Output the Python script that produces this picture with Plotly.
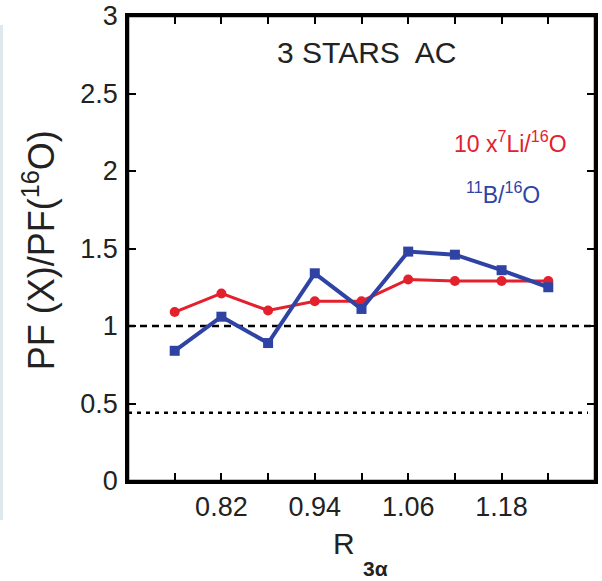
import plotly.graph_objects as go

# ---- data ----
r3a = [0.76, 0.82, 0.88, 0.94, 1.00, 1.06, 1.12, 1.18, 1.24]
li7_ratio = [1.09, 1.21, 1.10, 1.16, 1.16, 1.30, 1.29, 1.29, 1.29]   # 10 x 7Li/16O
b11_ratio = [0.84, 1.06, 0.89, 1.34, 1.11, 1.48, 1.46, 1.36, 1.25]   # 11B/16O
ref_dashed = 1.0
ref_dotted = 0.44
x_tickvals = [0.76, 0.82, 0.88, 0.94, 1.00, 1.06, 1.12, 1.18, 1.24]
x_ticktext = ["", "0.82", "", "0.94", "", "1.06", "", "1.18", ""]
y_tickvals = [0, 0.5, 1, 1.5, 2, 2.5, 3]
y_ticktext = ["0", "0.5", "1", "1.5", "2", "2.5", "3"]
x_range = [0.70, 1.30]
y_range = [0, 3]

RED = "#e3202b"
BLUE = "#2f43a5"
INK = "#222222"
FONT = "Liberation Sans, Arial, Helvetica, sans-serif"

fig = go.Figure()

fig.add_trace(go.Scatter(
    x=r3a, y=li7_ratio, mode="lines+markers",
    line=dict(color=RED, width=3),
    marker=dict(symbol="circle", size=10, color=RED),
    showlegend=False))
fig.add_trace(go.Scatter(
    x=r3a, y=b11_ratio, mode="lines+markers",
    line=dict(color=BLUE, width=4),
    marker=dict(symbol="square", size=10, color=BLUE),
    showlegend=False))
# empty trace that carries the top / right tick axes
fig.add_trace(go.Scatter(x=[], y=[], xaxis="x2", yaxis="y2",
                         showlegend=False, hoverinfo="skip"))

fig.add_shape(type="line", xref="paper", yref="y", x0=0, x1=1,
              y0=ref_dashed, y1=ref_dashed, layer="below",
              line=dict(color="black", width=2.5, dash="7px,5px"))
fig.add_shape(type="line", xref="paper", yref="y", x0=0, x1=0.985,
              y0=ref_dotted, y1=ref_dotted, layer="below",
              line=dict(color="black", width=2.5, dash="4px,5px"))
# plot frame
fig.add_shape(type="rect", xref="paper", yref="paper", x0=0, x1=1, y0=0, y1=1,
              layer="above", line=dict(color="black", width=2.5),
              fillcolor="rgba(0,0,0,0)")

# faint border artifact at far left of the reference
fig.add_shape(type="rect", xref="paper", yref="paper",
              x0=-128/467, x1=-125/467, y0=-(520-481)/465, y1=(481-25)/465,
              line=dict(width=0), fillcolor="#dfe8ec")

ann = dict(xref="paper", yref="paper", showarrow=False,
           xanchor="center", yanchor="middle")
fig.add_annotation(text="3 STARS  AC", x=0.511, y=0.9215,
                   font=dict(family=FONT, size=30, color=INK), **ann)
fig.add_annotation(text="10 x<sup>7</sup>Li/<sup>16</sup>O", x=0.818, y=0.728,
                   font=dict(family=FONT, size=23, color=RED), **ann)
fig.add_annotation(text="<sup>11</sup>B/<sup>16</sup>O", x=0.804, y=0.619,
                   font=dict(family=FONT, size=23, color=BLUE), **ann)
fig.add_annotation(text="PF (X)/PF(<sup>16</sup>O)", x=-0.19, y=0.497, textangle=-90,
                   font=dict(family=FONT, size=36, color=INK), **ann)
fig.add_annotation(text="R", x=0.4625, y=-0.135,
                   font=dict(family=FONT, size=30, color=INK), **ann)
fig.add_annotation(text="<b>3α</b>", x=0.531, y=-0.189,
                   font=dict(family=FONT, size=21, color=INK), **ann)

axis_common = dict(showline=True, linecolor="black", linewidth=2.5,
                   ticks="inside", ticklen=8, tickwidth=2, tickcolor="black",
                   showgrid=False, zeroline=False, automargin=False,
                   tickfont=dict(family=FONT, size=27, color=INK))
mirror_common = dict(ticks="inside", ticklen=8, tickwidth=2, tickcolor="black",
                     showticklabels=False, showline=True, linecolor="black",
                     linewidth=2.5, showgrid=False, zeroline=False,
                     automargin=False)

fig.update_layout(
    template="none", width=602, height=581,
    margin=dict(l=128, r=7, t=16, b=100, autoexpand=False),
    paper_bgcolor="white", plot_bgcolor="white",
    font=dict(family=FONT),
    xaxis=dict(range=x_range, tickvals=x_tickvals, ticktext=x_ticktext,
               ticklabelstandoff=0, **axis_common),
    yaxis=dict(range=y_range, tickvals=y_tickvals, ticktext=y_ticktext,
               ticklabelstandoff=2, **axis_common),
    xaxis2=dict(range=x_range, tickvals=x_tickvals, overlaying="x", side="top",
                anchor="y2", **mirror_common),
    yaxis2=dict(range=y_range, tickvals=y_tickvals, overlaying="y", side="right",
                anchor="x2", **mirror_common),
)

# remove the default 8px page margin so the figure sits at the window origin
fig.write_html("out.html",
               config={"displayModeBar": False},
               post_script="document.body.style.margin='0';")
